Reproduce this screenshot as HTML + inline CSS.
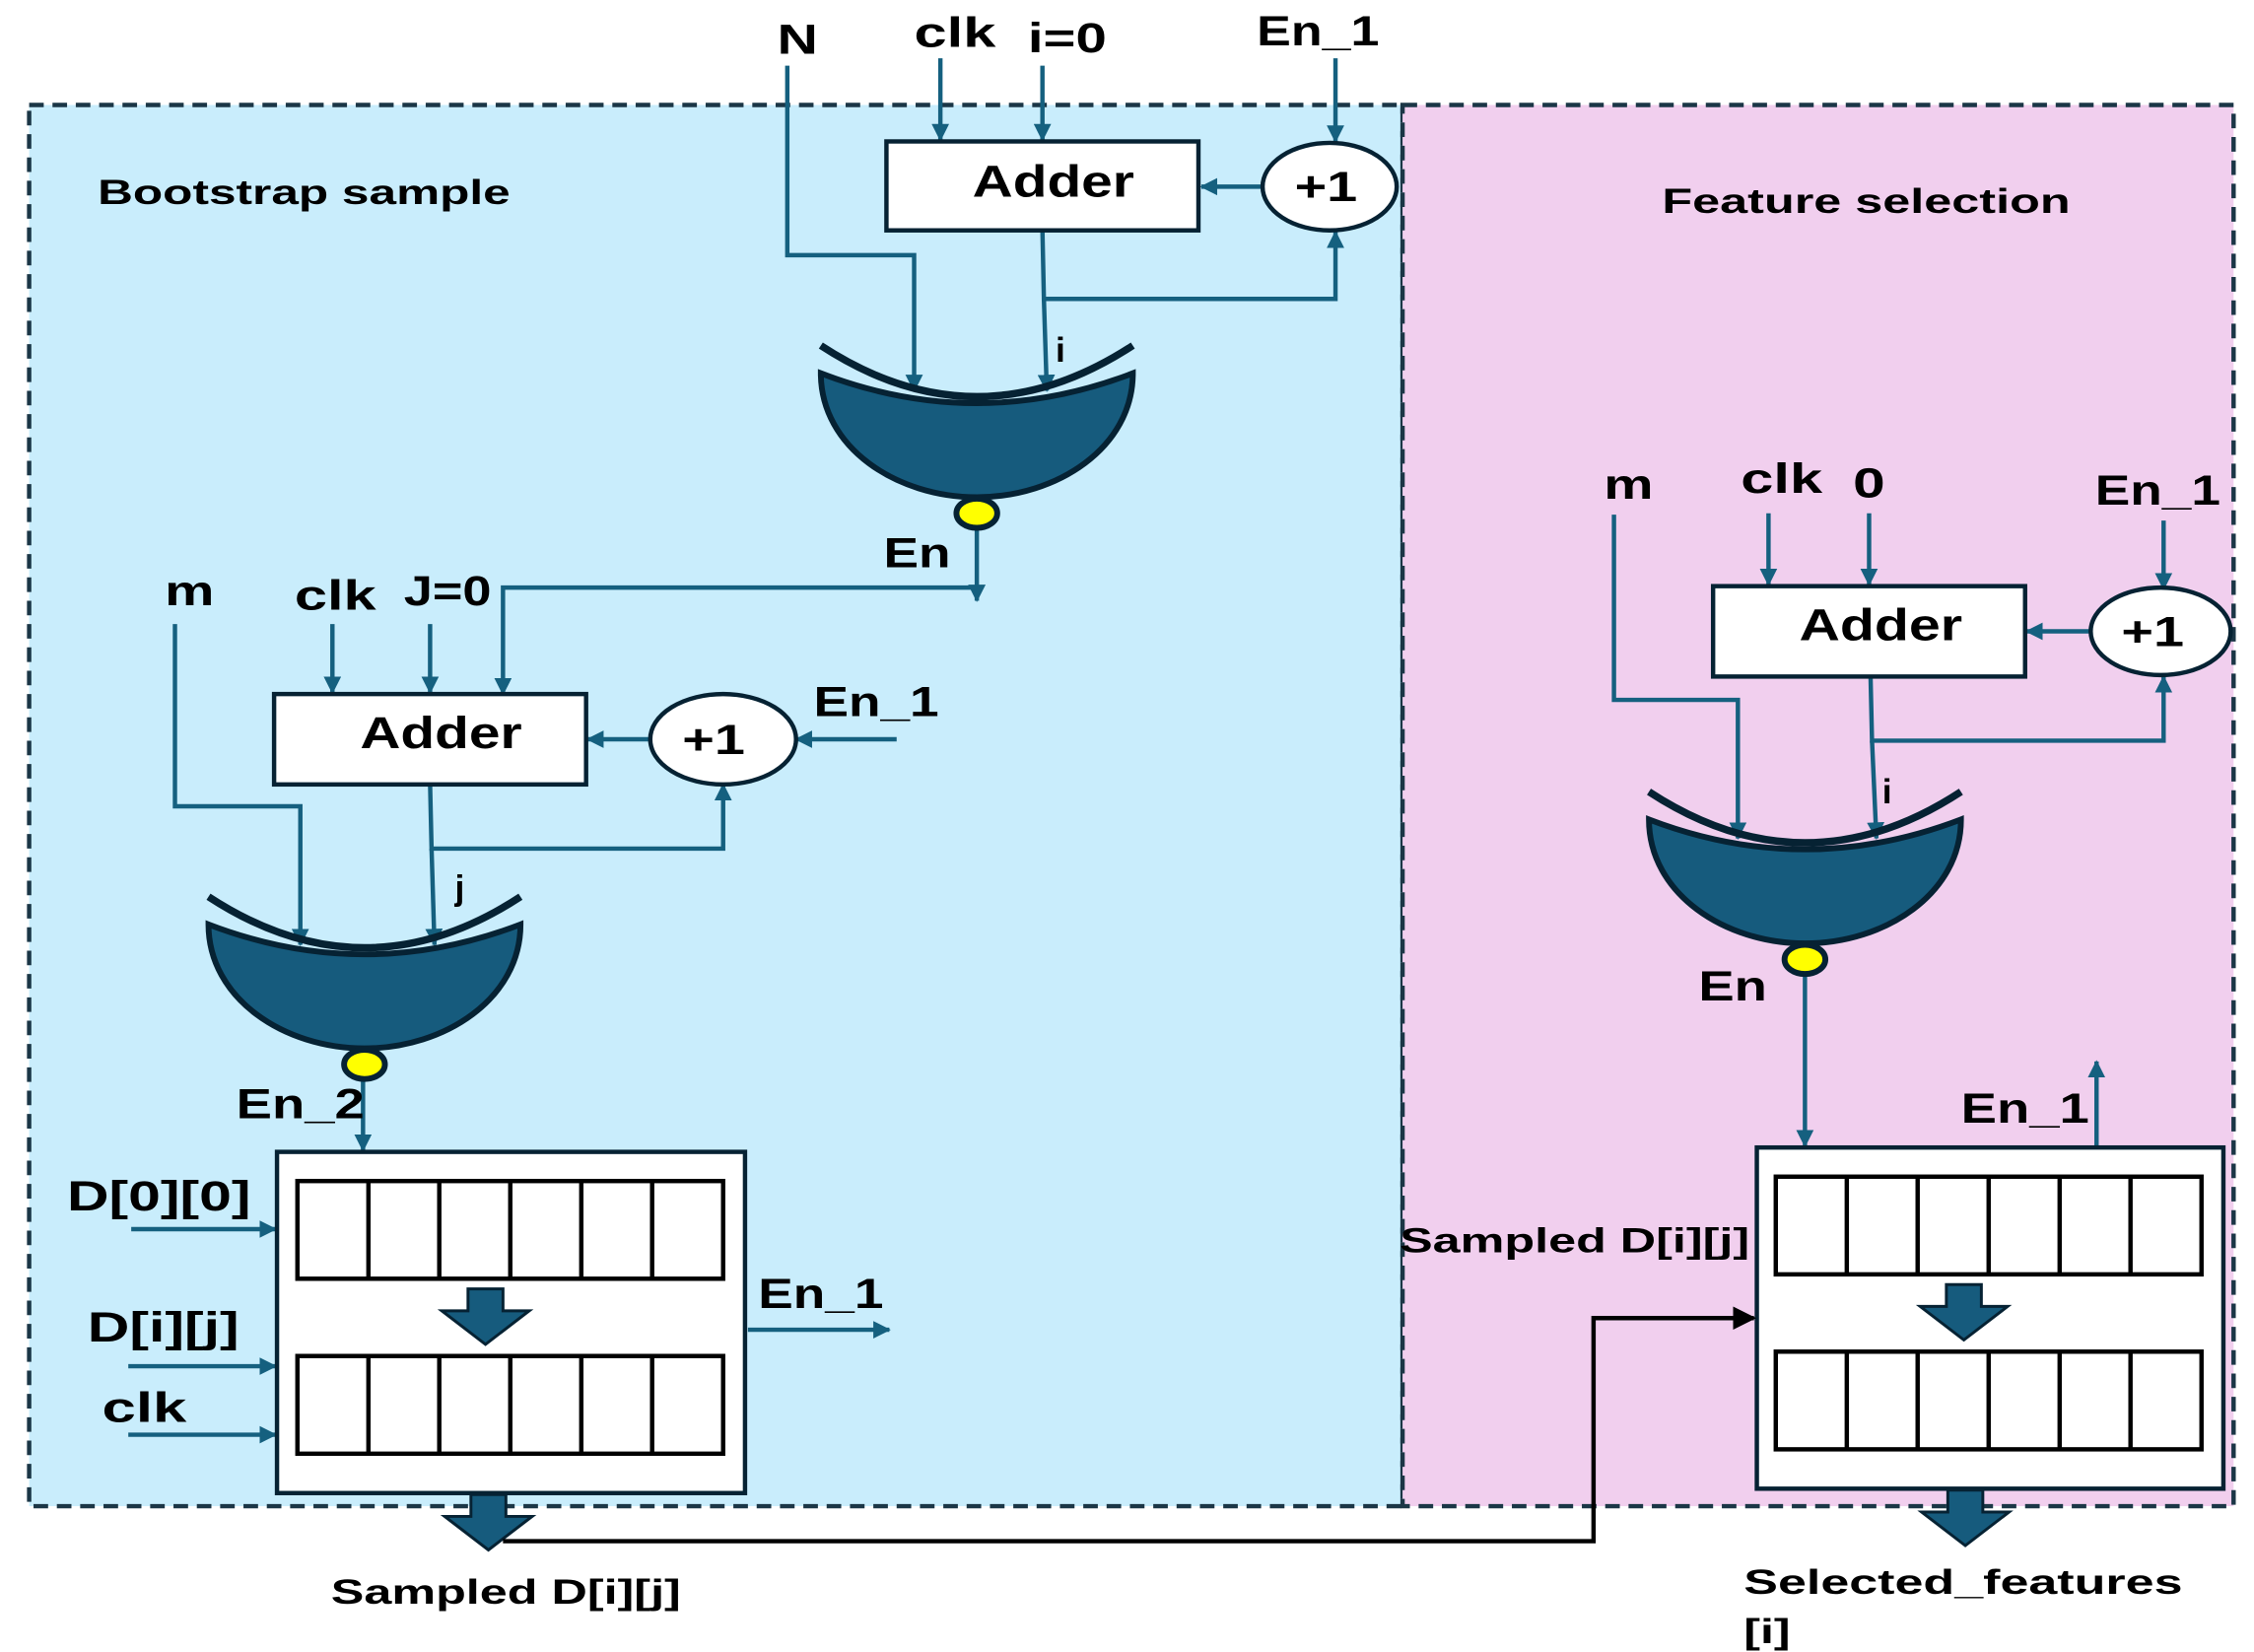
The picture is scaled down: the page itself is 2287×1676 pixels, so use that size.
<!DOCTYPE html>
<html><head><meta charset="utf-8"><style>
html,body{margin:0;padding:0;background:#fff;}
svg{display:block;}
text{font-family:"Liberation Sans",sans-serif;font-weight:bold;fill:#000;}
</style></head><body>
<svg width="2287" height="1676" viewBox="0 0 1546 1133" preserveAspectRatio="none" xmlns="http://www.w3.org/2000/svg">
<defs>
<marker id="a" viewBox="0 0 12 12" refX="11" refY="6" markerWidth="12" markerHeight="12" orient="auto" markerUnits="userSpaceOnUse">
<path d="M0 0 L12 6 L0 12 Z" fill="#15607f"/>
</marker>
<marker id="b" viewBox="0 0 10 10" refX="9" refY="5" markerWidth="16" markerHeight="16" orient="auto" markerUnits="userSpaceOnUse">
<path d="M0 0 L10 5 L0 10 Z" fill="#000"/>
</marker>
<g id="gate">
<path d="M-107 0 Q0 70 107 0" fill="none" stroke="#062233" stroke-width="5"/>
<path d="M-107 19 Q0 60 107 19 C107 70 55 104 0 104 C-55 104 -107 70 -107 19 Z" fill="#165b7d" stroke="#062233" stroke-width="4"/>
<ellipse cx="0" cy="115" rx="14" ry="10" fill="#ffff00" stroke="#062233" stroke-width="4"/>
</g>
<g id="row">
<rect x="0" y="0" width="292" height="67" fill="#fff" stroke="#000" stroke-width="3"/>
<line x1="48.7" y1="0" x2="48.7" y2="67" stroke="#000" stroke-width="3"/>
<line x1="97.3" y1="0" x2="97.3" y2="67" stroke="#000" stroke-width="3"/>
<line x1="146" y1="0" x2="146" y2="67" stroke="#000" stroke-width="3"/>
<line x1="194.7" y1="0" x2="194.7" y2="67" stroke="#000" stroke-width="3"/>
<line x1="243.3" y1="0" x2="243.3" y2="67" stroke="#000" stroke-width="3"/>
</g>
<path id="barr" d="M-12 0 H12 V15 H30 L0 38 L-30 15 H-12 Z" fill="#165b7d" stroke="#062233" stroke-width="2"/>
</defs>

<rect x="20" y="72" width="942" height="961" fill="#c9edfc" stroke="#1b3646" stroke-width="3" stroke-dasharray="10,6"/>
<rect x="962" y="72" width="570" height="961" fill="#f1cfee" stroke="#1b3646" stroke-width="3" stroke-dasharray="10,6"/>

<g stroke="#15607f" stroke-width="3" fill="none">
<polyline points="540,45 540,175 627,175 627,268" marker-end="url(#a)"/>
<line x1="645" y1="40" x2="645" y2="96" marker-end="url(#a)"/>
<line x1="715" y1="45" x2="715" y2="96" marker-end="url(#a)"/>
<line x1="916" y1="40" x2="916" y2="97" marker-end="url(#a)"/>
<line x1="866" y1="128" x2="824" y2="128" marker-end="url(#a)"/>
<polyline points="715,158 716,205 916,205 916,159" marker-end="url(#a)"/>
<line x1="716" y1="205" x2="718" y2="268" marker-end="url(#a)"/>
<line x1="670" y1="362" x2="670" y2="412" marker-end="url(#a)"/>
<polyline points="670,403 345,403 345,476" marker-end="url(#a)"/>
<polyline points="120,428 120,553 206,553 206,648" marker-end="url(#a)"/>
<line x1="228" y1="428" x2="228" y2="475" marker-end="url(#a)"/>
<line x1="295" y1="428" x2="295" y2="475" marker-end="url(#a)"/>
<line x1="615" y1="507" x2="546" y2="507" marker-end="url(#a)"/>
<line x1="446" y1="507" x2="403" y2="507" marker-end="url(#a)"/>
<polyline points="295,538 296,582 496,582 496,538" marker-end="url(#a)"/>
<line x1="296" y1="582" x2="298" y2="648" marker-end="url(#a)"/>
<line x1="249" y1="740" x2="249" y2="789" marker-end="url(#a)"/>
<line x1="90" y1="843" x2="189" y2="843" marker-end="url(#a)"/>
<line x1="88" y1="937" x2="189" y2="937" marker-end="url(#a)"/>
<line x1="88" y1="984" x2="189" y2="984" marker-end="url(#a)"/>
<line x1="513" y1="912" x2="610" y2="912" marker-end="url(#a)"/>
<polyline points="1107,353 1107,480 1192,480 1192,575" marker-end="url(#a)"/>
<line x1="1213" y1="352" x2="1213" y2="401" marker-end="url(#a)"/>
<line x1="1282" y1="352" x2="1282" y2="401" marker-end="url(#a)"/>
<line x1="1484" y1="357" x2="1484" y2="404" marker-end="url(#a)"/>
<line x1="1434" y1="433" x2="1390" y2="433" marker-end="url(#a)"/>
<polyline points="1283,464 1284,508 1484,508 1484,464" marker-end="url(#a)"/>
<line x1="1284" y1="508" x2="1287" y2="575" marker-end="url(#a)"/>
<line x1="1238" y1="667" x2="1238" y2="786" marker-end="url(#a)"/>
<line x1="1438" y1="787" x2="1438" y2="728" marker-end="url(#a)"/>
</g>

<rect x="608" y="97" width="214" height="61" fill="#fff" stroke="#062233" stroke-width="3"/>
<rect x="188" y="476" width="214" height="62" fill="#fff" stroke="#062233" stroke-width="3"/>
<rect x="1175" y="402" width="214" height="62" fill="#fff" stroke="#062233" stroke-width="3"/>
<ellipse cx="912" cy="128" rx="46" ry="30" fill="#fff" stroke="#062233" stroke-width="3"/>
<ellipse cx="496" cy="507" rx="50" ry="31" fill="#fff" stroke="#062233" stroke-width="3"/>
<ellipse cx="1482" cy="433" rx="48" ry="30" fill="#fff" stroke="#062233" stroke-width="3"/>

<use href="#gate" x="670" y="237"/>
<use href="#gate" x="250" y="615"/>
<use href="#gate" x="1238" y="543"/>

<rect x="190" y="790" width="321" height="234" fill="#fff" stroke="#062233" stroke-width="3"/>
<use href="#row" x="204" y="810"/>
<use href="#row" x="204" y="930"/>
<use href="#barr" x="333" y="884"/>
<rect x="1205" y="787" width="320" height="234" fill="#fff" stroke="#062233" stroke-width="3"/>
<use href="#row" x="1218" y="807"/>
<use href="#row" x="1218" y="927"/>
<use href="#barr" x="1347" y="881"/>
<use href="#barr" x="335" y="1025"/>
<use href="#barr" x="1348" y="1022"/>

<polyline points="345,1057 1093,1057 1093,904 1203,904" fill="none" stroke="#000" stroke-width="3" marker-end="url(#b)"/>

<g font-size="29">
<text x="533" y="37" textLength="28" lengthAdjust="spacingAndGlyphs">N</text>
<text x="627" y="32" textLength="56" lengthAdjust="spacingAndGlyphs">clk</text>
<text x="705" y="36" textLength="54" lengthAdjust="spacingAndGlyphs">i=0</text>
<text x="862" y="31" textLength="84" lengthAdjust="spacingAndGlyphs">En_1</text>
<text x="667" y="135" font-size="31" textLength="111" lengthAdjust="spacingAndGlyphs">Adder</text>
<text x="888" y="138" textLength="43" lengthAdjust="spacingAndGlyphs">+1</text>
<text x="724" y="248" font-size="24">i</text>
<text x="606" y="389" textLength="46" lengthAdjust="spacingAndGlyphs">En</text>
<text x="113" y="415" textLength="34" lengthAdjust="spacingAndGlyphs">m</text>
<text x="202" y="418" textLength="56" lengthAdjust="spacingAndGlyphs">clk</text>
<text x="277" y="415" textLength="60" lengthAdjust="spacingAndGlyphs">J=0</text>
<text x="247" y="513" font-size="31" textLength="111" lengthAdjust="spacingAndGlyphs">Adder</text>
<text x="468" y="517" textLength="43" lengthAdjust="spacingAndGlyphs">+1</text>
<text x="558" y="491" textLength="86" lengthAdjust="spacingAndGlyphs">En_1</text>
<text x="312" y="617" font-size="24">j</text>
<text x="162" y="767" textLength="88" lengthAdjust="spacingAndGlyphs">En_2</text>
<text x="46" y="830" textLength="126" lengthAdjust="spacingAndGlyphs">D[0][0]</text>
<text x="60" y="920" textLength="104" lengthAdjust="spacingAndGlyphs">D[i][j]</text>
<text x="70" y="975" textLength="58" lengthAdjust="spacingAndGlyphs">clk</text>
<text x="520" y="897" textLength="86" lengthAdjust="spacingAndGlyphs">En_1</text>
<text x="227" y="1100" font-size="24" textLength="240" lengthAdjust="spacingAndGlyphs">Sampled D[i][j]</text>
<text x="67" y="140" font-size="24" textLength="283" lengthAdjust="spacingAndGlyphs">Bootstrap sample</text>
<text x="1140" y="146" font-size="24" textLength="280" lengthAdjust="spacingAndGlyphs">Feature selection</text>
<text x="1100" y="342" textLength="34" lengthAdjust="spacingAndGlyphs">m</text>
<text x="1194" y="338" textLength="56" lengthAdjust="spacingAndGlyphs">clk</text>
<text x="1271" y="341" textLength="22" lengthAdjust="spacingAndGlyphs">0</text>
<text x="1437" y="346" textLength="86" lengthAdjust="spacingAndGlyphs">En_1</text>
<text x="1234" y="439" font-size="31" textLength="112" lengthAdjust="spacingAndGlyphs">Adder</text>
<text x="1455" y="443" textLength="43" lengthAdjust="spacingAndGlyphs">+1</text>
<text x="1291" y="551" font-size="24">i</text>
<text x="1165" y="686" textLength="47" lengthAdjust="spacingAndGlyphs">En</text>
<text x="1345" y="770" textLength="88" lengthAdjust="spacingAndGlyphs">En_1</text>
<text x="960" y="859" font-size="24" textLength="240" lengthAdjust="spacingAndGlyphs">Sampled D[i][j]</text>
<text x="1196" y="1093" font-size="24" textLength="301" lengthAdjust="spacingAndGlyphs">Selected_features</text>
<text x="1196" y="1127" font-size="24" textLength="32" lengthAdjust="spacingAndGlyphs">[i]</text>
</g>
</svg>
</body></html>
